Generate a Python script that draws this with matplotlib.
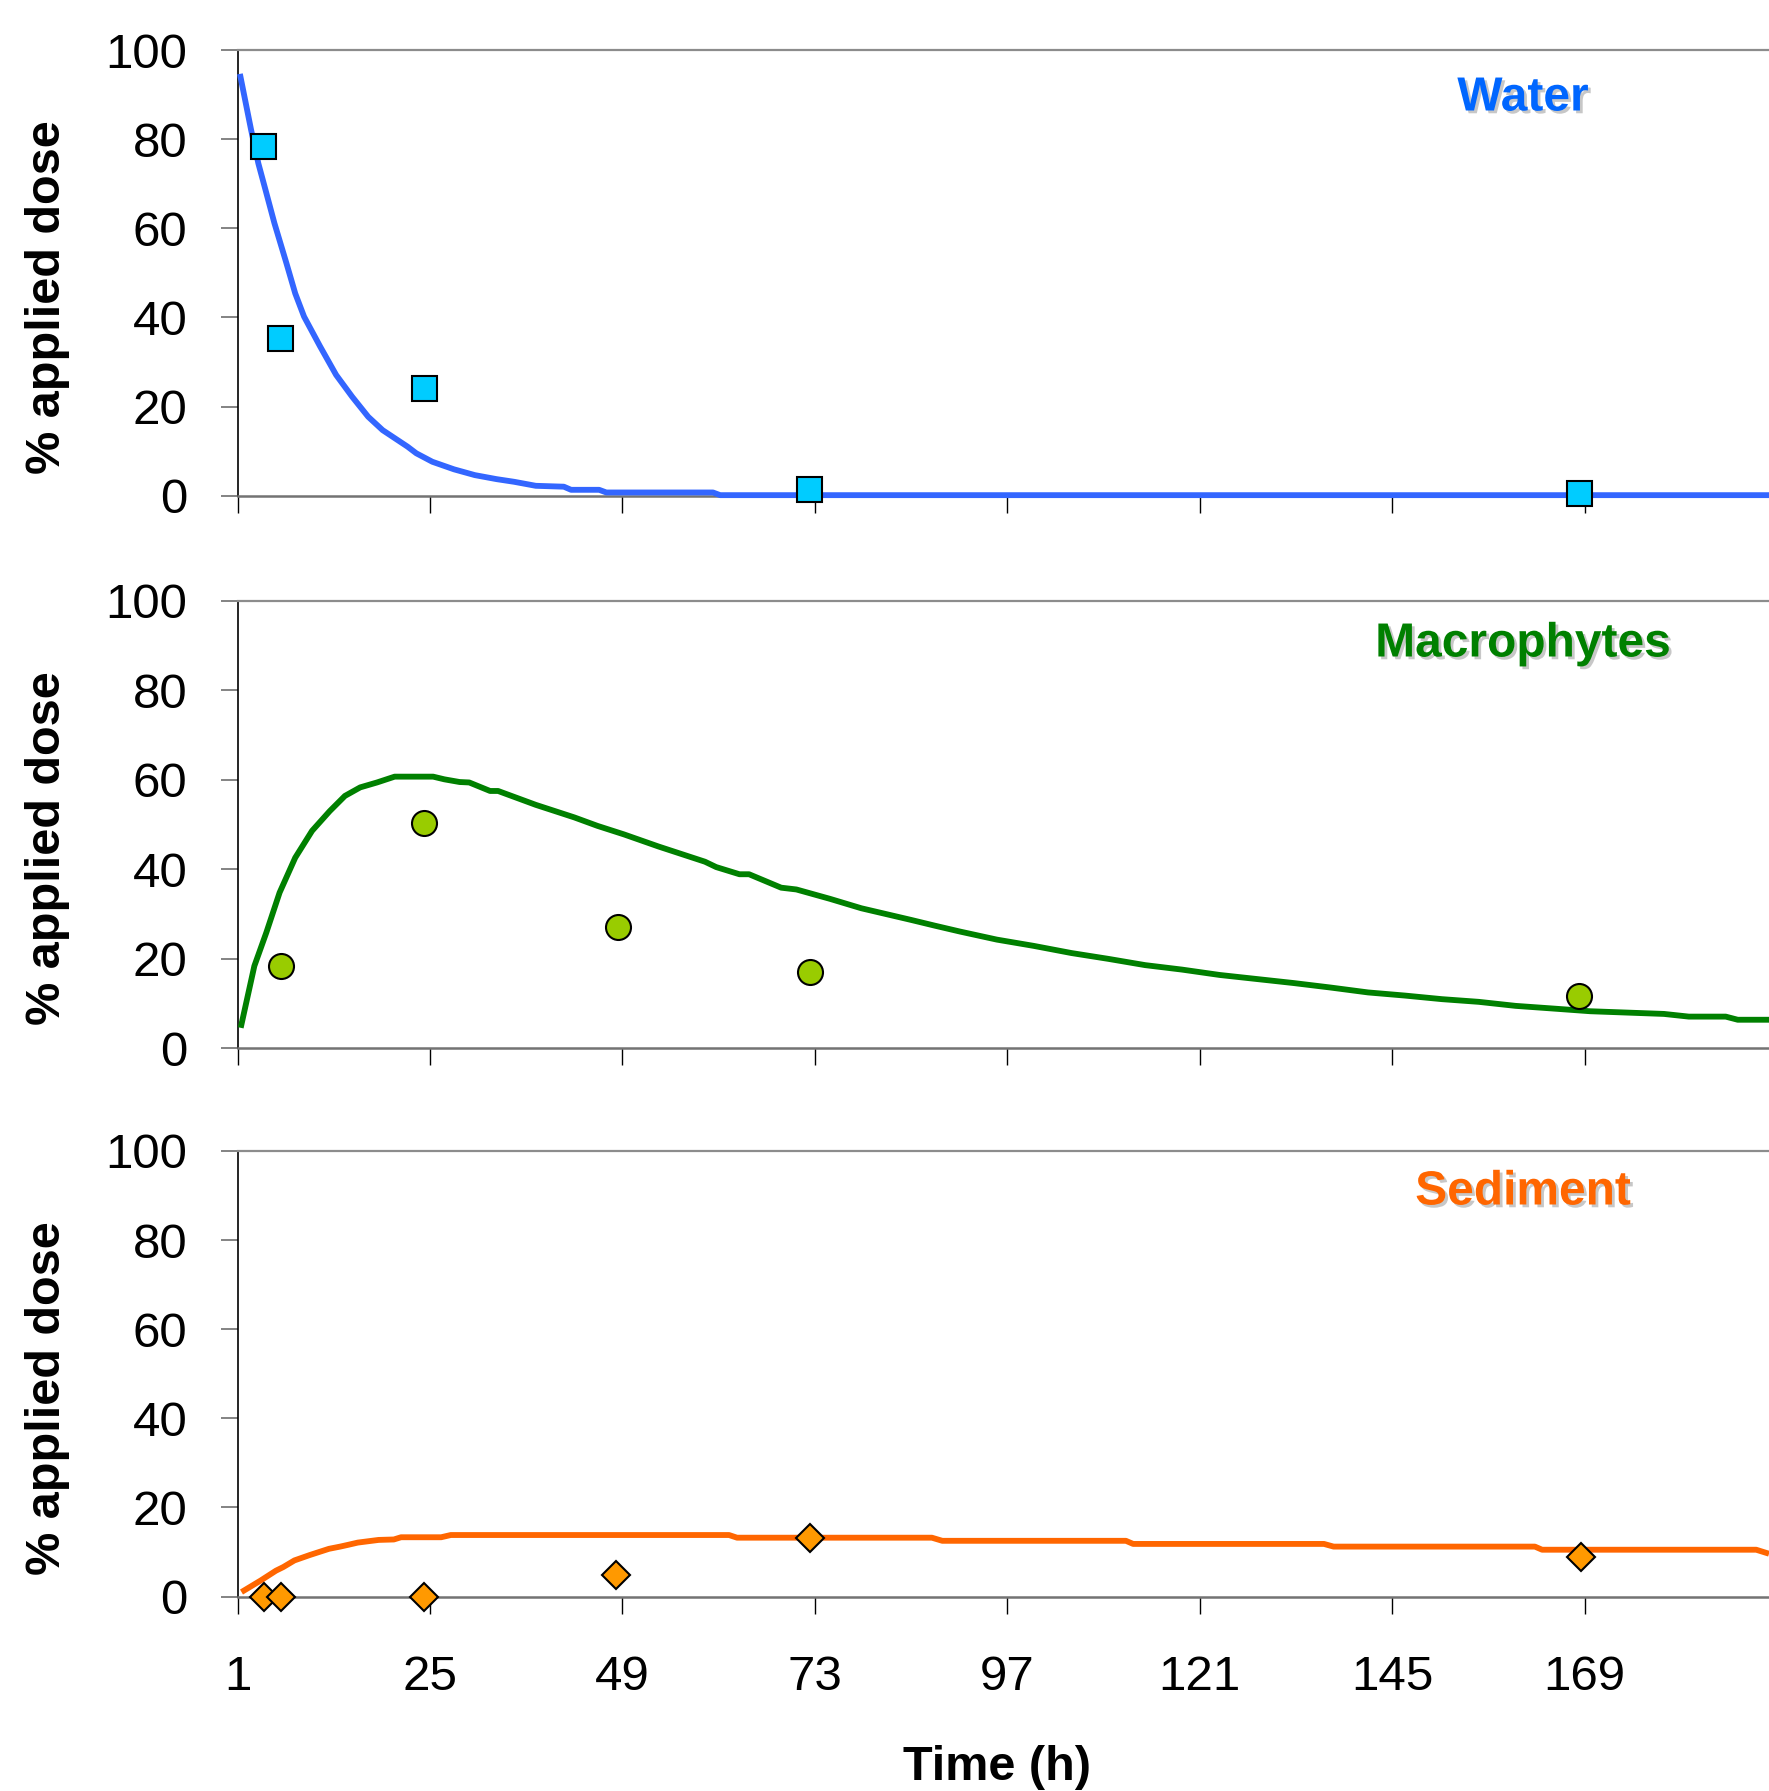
import matplotlib
matplotlib.use("Agg")
import matplotlib.pyplot as plt
import matplotlib.patheffects as pe

plt.rcParams['font.family'] = ['Liberation Sans', 'DejaVu Sans']

# ---------------- data ----------------
water_t = [1.3, 2.7, 3.6, 4.5, 5.6, 7.1, 8.2, 9.3, 11.3, 13.3, 15.3, 17.3, 19.1,
           22.2, 23.3, 25.3, 28.0, 30.6, 33.3, 35.5, 38.2, 41.7, 42.6, 46.1, 47.0,
           60.3, 61.2, 192.0]
water_v = [94.7, 82.1, 74.6, 68.6, 61.2, 52.2, 45.4, 40.2, 33.5, 27.1, 22.2, 17.7, 14.7,
           11.0, 9.5, 7.6, 5.9, 4.6, 3.7, 3.1, 2.2, 2.0, 1.3, 1.3, 0.7,
           0.7, 0.1, 0.1]
water_obs_t = [4.2, 6.3, 24.2, 72.3, 168.3]
water_obs_v = [78.4, 35.5, 24.1, 1.5, 0.5]

macro_t = [1.4, 3.1, 4.6, 6.25, 8.2, 10.3, 12.5, 14.4, 16.3, 18.4, 20.6, 25.4, 26.8,
           28.7, 29.9, 32.5, 33.5, 38.2, 43.0, 45.9, 49.2, 53.5, 59.3, 60.7, 63.6,
           64.8, 68.8, 70.7, 74.9, 78.8, 81.9, 85.0, 88.0, 91.1, 95.7, 100.3, 105.0,
           109.6, 114.2, 118.8, 123.5, 128.1, 132.7, 137.3, 142.0, 146.6, 151.2,
           155.8, 160.4, 165.1, 169.7, 174.3, 178.9, 182.0, 186.6, 188.1, 192.0]
macro_v = [4.6, 18.4, 25.9, 34.8, 42.6, 48.6, 53.0, 56.4, 58.3, 59.4, 60.7, 60.7, 60.1,
           59.5, 59.4, 57.5, 57.5, 54.4, 51.6, 49.7, 47.8, 45.1, 41.7, 40.5, 38.9,
           38.9, 35.9, 35.5, 33.4, 31.3, 30.0, 28.7, 27.4, 26.1, 24.3, 22.9, 21.3,
           20.0, 18.6, 17.6, 16.4, 15.5, 14.6, 13.6, 12.5, 11.8, 11.0,
           10.4, 9.5, 8.9, 8.3, 8.0, 7.7, 7.1, 7.1, 6.4, 6.4]
macro_obs_t = [6.4, 24.3, 48.4, 72.4, 168.3]
macro_obs_v = [18.4, 50.3, 27.2, 17.1, 11.6]

sed_t = [1.5, 3.9, 5.8, 6.7, 8.1, 10.0, 12.4, 13.8, 14.8, 16.0, 18.6, 20.5, 21.4,
         26.4, 27.6, 62.3, 63.3, 87.6, 88.9, 111.8, 112.7, 136.5, 137.7, 162.8,
         163.7, 190.4, 192.0]
sed_v = [1.0, 3.6, 5.8, 6.6, 8.1, 9.3, 10.7, 11.2, 11.6, 12.1, 12.7, 12.8, 13.3,
         13.3, 13.8, 13.8, 13.2, 13.2, 12.5, 12.5, 11.8, 11.8, 11.2, 11.2,
         10.5, 10.5, 9.6]
sed_obs_t = [4.3, 6.4, 24.3, 48.2, 72.4, 168.5]
sed_obs_v = [0.0, 0.0, 0.0, 4.9, 13.2, 8.8]

x_ticks = [1, 25, 49, 73, 97, 121, 145, 169]
y_ticks = [0, 20, 40, 60, 80, 100]
panel_names = ["Water", "Macrophytes", "Sediment"]

# ---------------- figure ----------------
fig = plt.figure(figsize=(17.69, 17.91), dpi=100)
W, H = 1769.0, 1791.0
left_px = 237.5
panels_px = [(50.3, 495.6), (600.7, 1048.4), (1151.0, 1596.5)]

line_cols = ["#3366FF", "#008000", "#FF6600"]
text_cols = ["#0066FF", "#008000", "#FF6600"]
mk_cols = ["#00CCFF", "#99CC00", "#FF9900"]
mk_shapes = ["s", "o", "D"]
mk_sizes = [18, 18, 14]
lines = [(water_t, water_v), (macro_t, macro_v), (sed_t, sed_v)]
obs = [(water_obs_t, water_obs_v), (macro_obs_t, macro_obs_v), (sed_obs_t, sed_obs_v)]
title_y_px = [98, 644, 1192]

for i, (top, bot) in enumerate(panels_px):
    ax = fig.add_axes([left_px / W, 1 - bot / H, 1 - left_px / W, (bot - top) / H])
    ax.set_xlim(1, 192)
    ax.set_ylim(0, 100)
    ax.plot(lines[i][0], lines[i][1], color=line_cols[i], lw=4.2, zorder=5,
            clip_on=False, solid_joinstyle='round', solid_capstyle='butt')
    ax.plot(obs[i][0], obs[i][1], linestyle='none', marker=mk_shapes[i],
            markersize=mk_sizes[i], markerfacecolor=mk_cols[i],
            markeredgecolor='black', markeredgewidth=1.5, zorder=6, clip_on=False)

    ax.spines['right'].set_visible(False)
    ax.spines['left'].set_color('black')
    ax.spines['left'].set_linewidth(1.2)
    ax.spines['top'].set_color('#8c8c8c')
    ax.spines['top'].set_linewidth(1.6)
    ax.spines['bottom'].set_color('#737373')
    ax.spines['bottom'].set_linewidth(1.8)
    ax.spines['bottom'].set_zorder(3)

    ax.set_yticks(y_ticks)
    ax.set_yticklabels([str(v) for v in y_ticks])
    ax.tick_params(axis='y', direction='out', length=12, width=1.2, color='#6e6e6e',
                   labelsize=35.5, pad=24)
    ax.set_xticks(x_ticks)
    if i == 2:
        ax.set_xticklabels([str(v) for v in x_ticks])
    else:
        ax.set_xticklabels([])
    ax.tick_params(axis='x', direction='out', length=12, width=1.0, color='black',
                   labelsize=35.5, pad=30)

    fig.text(1523 / W, 1 - title_y_px[i] / H, panel_names[i], color=text_cols[i],
             fontsize=34.5, fontweight='bold', ha='center', va='center',
             path_effects=[pe.SimplePatchShadow(offset=(2, -2),
                                                shadow_rgbFace='#b0b0b0', alpha=0.7),
                           pe.Normal()])

    fig.text(48 / W, 1 - ((top + bot) / 2 + 24) / H, "% applied dose",
             rotation=90, fontsize=35, fontweight='bold', ha='center', va='center')

fig.text(997 / W, 1 - 1768 / H, "Time (h)", fontsize=35, fontweight='bold',
         ha='center', va='center')

fig.savefig("out.png", dpi=100)
